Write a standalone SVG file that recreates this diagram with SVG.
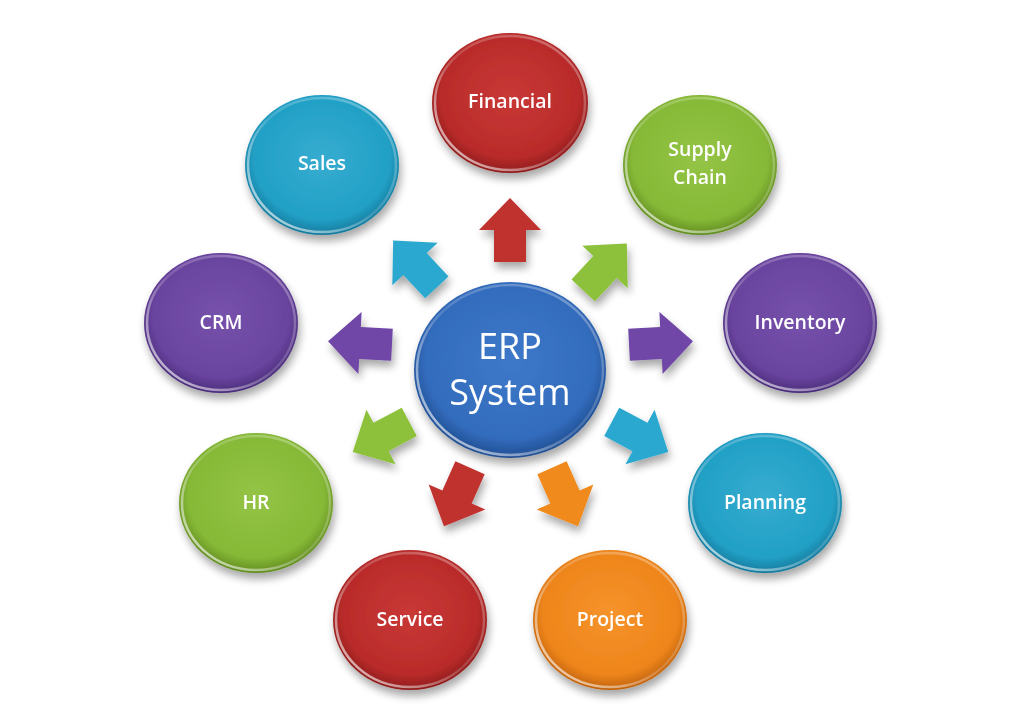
<svg xmlns="http://www.w3.org/2000/svg" width="1024" height="719" viewBox="0 0 1024 719">
<defs>
<filter id="sh" x="-20%" y="-20%" width="140%" height="150%">
<feGaussianBlur in="SourceAlpha" stdDeviation="4"/>
<feOffset dx="2" dy="6" result="b"/>
<feComponentTransfer><feFuncA type="linear" slope="0.35"/></feComponentTransfer>
<feMerge><feMergeNode/><feMergeNode in="SourceGraphic"/></feMerge>
</filter>
<radialGradient id="gRed" cx="50%" cy="45%" r="55%"><stop offset="0" stop-color="#c93836"/><stop offset="0.8" stop-color="#b92b2a"/><stop offset="1" stop-color="#8e1c1c"/></radialGradient>
<radialGradient id="gBlue" cx="50%" cy="45%" r="55%"><stop offset="0" stop-color="#36acd0"/><stop offset="0.8" stop-color="#22a0c6"/><stop offset="1" stop-color="#157a9c"/></radialGradient>
<radialGradient id="gGreen" cx="50%" cy="45%" r="55%"><stop offset="0" stop-color="#94c446"/><stop offset="0.8" stop-color="#86b936"/><stop offset="1" stop-color="#628c22"/></radialGradient>
<radialGradient id="gPurple" cx="50%" cy="45%" r="55%"><stop offset="0" stop-color="#7652ab"/><stop offset="0.8" stop-color="#6a449f"/><stop offset="1" stop-color="#4a2d7a"/></radialGradient>
<radialGradient id="gOrange" cx="50%" cy="45%" r="55%"><stop offset="0" stop-color="#f6932b"/><stop offset="0.8" stop-color="#ee851b"/><stop offset="1" stop-color="#c0620c"/></radialGradient>
<radialGradient id="gCore" cx="50%" cy="45%" r="55%"><stop offset="0" stop-color="#3d78c8"/><stop offset="0.8" stop-color="#336cbd"/><stop offset="1" stop-color="#1f4d90"/></radialGradient>
<linearGradient id="gRim" x1="0" y1="1" x2="1" y2="0"><stop offset="0" stop-color="#ffffff" stop-opacity="0.8"/><stop offset="0.5" stop-color="#ffffff" stop-opacity="0.15"/><stop offset="1" stop-color="#ffffff" stop-opacity="0.35"/></linearGradient>
<path id="arr" d="M -32,-16 L 0,-16 L 0,-31 L 32,0 L 0,31 L 0,16 L -32,16 Z"/>
</defs>
<style>
.rim{fill:none;stroke:url(#gRim);stroke-width:2.5}
.lbl{font-family:"Open Sans","Liberation Sans",sans-serif;font-size:19.5px;font-weight:600;fill:#ffffff;text-anchor:middle}
.core{font-family:"Open Sans","Liberation Sans",sans-serif;font-size:36px;fill:#ffffff;text-anchor:middle}
</style>
<rect width="1024" height="719" fill="#ffffff"/>
<g id="connectors" filter="url(#sh)">
<use href="#arr" fill="#c0302f" transform="translate(510,230) rotate(-90)"/>
<use href="#arr" fill="#8dc03a" transform="translate(605,267) rotate(-47)"/>
<use href="#arr" fill="#6f46a6" transform="translate(661,343) rotate(-3)"/>
<use href="#arr" fill="#2aa8cf" transform="translate(640,437) rotate(28)"/>
<use href="#arr" fill="#f08a1e" transform="translate(565,497) rotate(66)"/>
<use href="#arr" fill="#c0302f" transform="translate(457,497) rotate(114)"/>
<use href="#arr" fill="#8dc03a" transform="translate(381,437) rotate(152)"/>
<use href="#arr" fill="#6f46a6" transform="translate(360,343) rotate(183)"/>
<use href="#arr" fill="#2aa8cf" transform="translate(415,264) rotate(-133)"/>
</g>
<g id="erp" filter="url(#sh)"><ellipse cx="510" cy="370" rx="96" ry="88" fill="url(#gCore)"/><ellipse cx="510" cy="370" rx="93" ry="85" class="rim"/><text class="core" x="510" y="359">ERP</text><text class="core" x="510" y="405">System</text></g>
<g id="financial" filter="url(#sh)"><ellipse cx="510" cy="103" rx="78" ry="70" fill="url(#gRed)"/><ellipse cx="510" cy="103" rx="75" ry="67" class="rim"/><text class="lbl" x="510" y="108">Financial</text></g>
<g id="sales" filter="url(#sh)"><ellipse cx="322" cy="165" rx="77" ry="70" fill="url(#gBlue)"/><ellipse cx="322" cy="165" rx="74" ry="67" class="rim"/><text class="lbl" x="322" y="170">Sales</text></g>
<g id="supply" filter="url(#sh)"><ellipse cx="700" cy="165" rx="77" ry="70" fill="url(#gGreen)"/><ellipse cx="700" cy="165" rx="74" ry="67" class="rim"/><text class="lbl" x="700" y="156">Supply</text><text class="lbl" x="700" y="184">Chain</text></g>
<g id="crm" filter="url(#sh)"><ellipse cx="221" cy="323" rx="77" ry="70" fill="url(#gPurple)"/><ellipse cx="221" cy="323" rx="74" ry="67" class="rim"/><text class="lbl" x="221" y="329">CRM</text></g>
<g id="inventory" filter="url(#sh)"><ellipse cx="800" cy="323" rx="77" ry="70" fill="url(#gPurple)"/><ellipse cx="800" cy="323" rx="74" ry="67" class="rim"/><text class="lbl" x="800" y="329">Inventory</text></g>
<g id="hr" filter="url(#sh)"><ellipse cx="256" cy="503" rx="77" ry="70" fill="url(#gGreen)"/><ellipse cx="256" cy="503" rx="74" ry="67" class="rim"/><text class="lbl" x="256" y="509">HR</text></g>
<g id="planning" filter="url(#sh)"><ellipse cx="765" cy="503" rx="77" ry="70" fill="url(#gBlue)"/><ellipse cx="765" cy="503" rx="74" ry="67" class="rim"/><text class="lbl" x="765" y="509">Planning</text></g>
<g id="service" filter="url(#sh)"><ellipse cx="410" cy="620" rx="77" ry="70" fill="url(#gRed)"/><ellipse cx="410" cy="620" rx="74" ry="67" class="rim"/><text class="lbl" x="410" y="626">Service</text></g>
<g id="project" filter="url(#sh)"><ellipse cx="610" cy="620" rx="77" ry="70" fill="url(#gOrange)"/><ellipse cx="610" cy="620" rx="74" ry="67" class="rim"/><text class="lbl" x="610" y="626">Project</text></g>
</svg>
